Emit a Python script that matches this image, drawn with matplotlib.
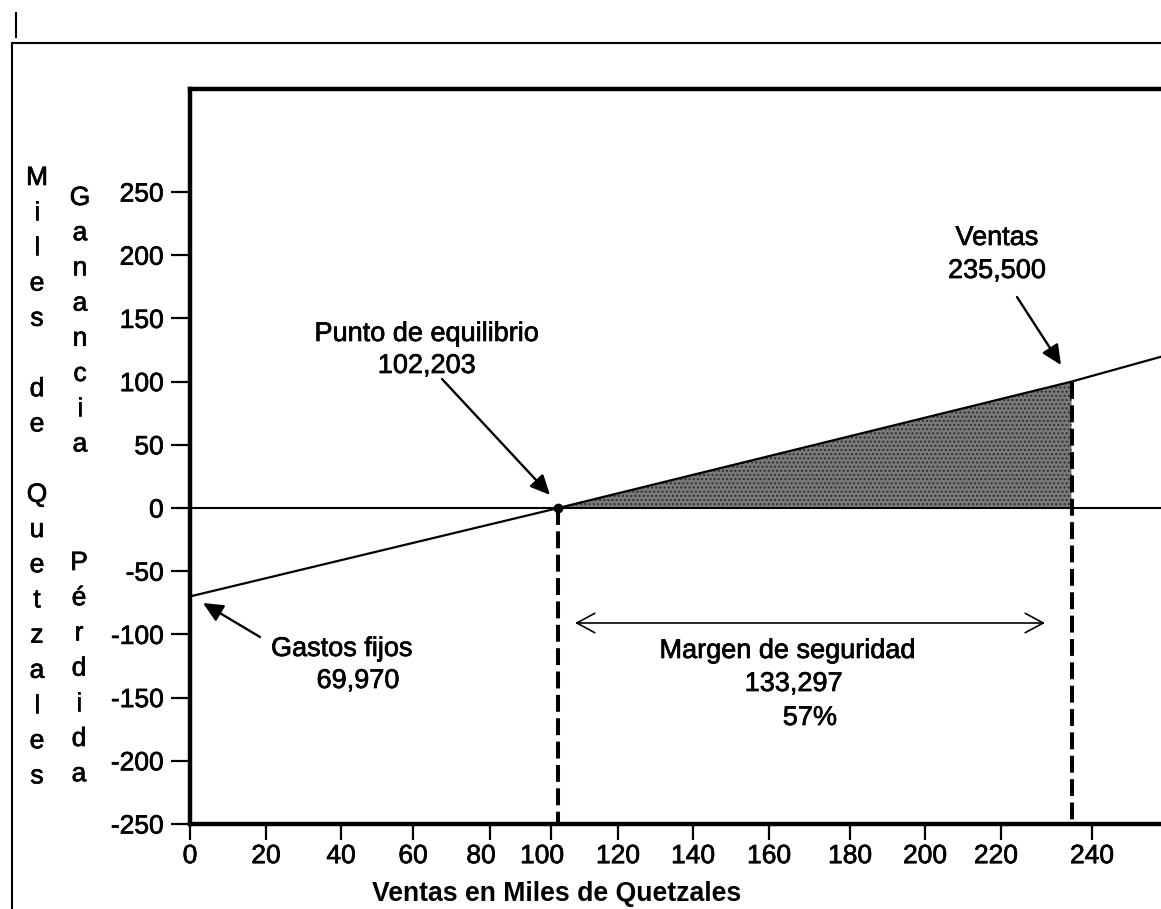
import numpy as np
import matplotlib
matplotlib.use("Agg")
import matplotlib.pyplot as plt
import matplotlib.patheffects as pe
import matplotlib.transforms as mtransforms
from matplotlib.lines import Line2D

plt.rcParams['font.family'] = ['Liberation Sans', 'DejaVu Sans']

# ---------------- data ----------------
x_tick_values = [0, 20, 40, 60, 80, 100, 120, 140, 160, 180, 200, 220, 240]
y_tick_values = [250, 200, 150, 100, 50, 0, -50, -100, -150, -200, -250]
profit_x = [0, 102.203, 235.5, 255]          # ventas (miles de Q)
profit_y = [-69.97, 0, 100, 119.5]           # ganancia / pérdida
breakeven_sales = 102.203
current_sales = 235.5
profit_at_sales = 100
floor_value = -250

label_breakeven = ["Punto de equilibrio", "102,203"]
label_sales = ["Ventas", "235,500"]
label_fixed = ["Gastos fijos", "69,970"]
label_margin = ["Margen de seguridad", "133,297", "57%"]
ylabel_outer = "Miles de Quetzales"
ylabel_gain = "Ganancia"
ylabel_loss = "Pérdida"
xlabel = "Ventas en Miles de Quetzales"

# ---------------- layout ----------------
W, H = 1161, 909
fig = plt.figure(figsize=(W / 100, H / 100), dpi=100)
INK = [pe.withStroke(linewidth=0.5, foreground='black')]


def F(x, y):
    return (x / W, 1 - y / H)


# irregular hand-drawn x axis: tick positions (pixels) of the reference
TICK_PX = [190, 266, 341, 413, 490, 551, 618, 693, 769, 850, 925, 1001, 1092]
LABEL_SHIFT_PX = {80: -9, 100: -9, 220: -5}
_lo = (TICK_PX[1] - TICK_PX[0]) / 20.0
_hi = (TICK_PX[-1] - TICK_PX[-2]) / 20.0


def fwd(v):
    v = np.asarray(v, dtype=float)
    out = np.interp(v, x_tick_values, TICK_PX)
    out = np.where(v < x_tick_values[0], TICK_PX[0] + (v - x_tick_values[0]) * _lo, out)
    out = np.where(v > x_tick_values[-1], TICK_PX[-1] + (v - x_tick_values[-1]) * _hi, out)
    return out


def inv(p):
    p = np.asarray(p, dtype=float)
    out = np.interp(p, TICK_PX, x_tick_values)
    out = np.where(p < TICK_PX[0], x_tick_values[0] + (p - TICK_PX[0]) / _lo, out)
    out = np.where(p > TICK_PX[-1], x_tick_values[-1] + (p - TICK_PX[-1]) / _hi, out)
    return out


ax = fig.add_axes([190 / W, 1 - 824 / H, (W - 190) / W, (824 - 89) / H])
ax.set_xscale('function', functions=(fwd, inv))
ax.set_xlim(0, float(inv(W)))
ax.set_ylim(-250, 331.5)

for s in ['left', 'top', 'bottom']:
    ax.spines[s].set_linewidth(3.2)
    ax.spines[s].set_color('black')
ax.spines['right'].set_visible(False)

ax.set_xticks(x_tick_values)
ax.set_xticklabels([str(v) for v in x_tick_values])
ax.set_yticks(y_tick_values)
ax.set_yticklabels([str(v) for v in y_tick_values])
ax.xaxis.set_minor_locator(matplotlib.ticker.NullLocator())
ax.tick_params(axis='x', direction='out', length=11.5, width=1.6, labelsize=19, pad=3)
ax.tick_params(axis='y', direction='out', length=14, width=1.6, labelsize=19, pad=5)
for lab in ax.get_xticklabels() + ax.get_yticklabels():
    lab.set_path_effects(INK)
for v, lab in zip(x_tick_values, ax.get_xticklabels()):
    if v in LABEL_SHIFT_PX:
        off = mtransforms.ScaledTranslation(LABEL_SHIFT_PX[v] / 100, 0, fig.dpi_scale_trans)
        lab.set_transform(lab.get_transform() + off)

# zero line
ax.axhline(0, color='black', lw=1.5, zorder=3)
# shaded margin-of-safety profit area
ax.fill([breakeven_sales, current_sales, current_sales],
        [0, profit_at_sales, 0],
        facecolor='#7a7a7a', edgecolor='none', zorder=2)
ax.fill([breakeven_sales, current_sales, current_sales],
        [0, profit_at_sales, 0],
        facecolor='none', edgecolor='#2e2e2e', lw=0, hatch='....', zorder=2)
# profit line
ax.plot(profit_x, profit_y, color='black', lw=1.6, zorder=4)
# dashed verticals
dash = (0, (4.2, 1.6))
ax.plot([breakeven_sales, breakeven_sales], [0, floor_value], color='black',
        lw=2.9, linestyle=dash, zorder=4, clip_on=False)
ax.plot([current_sales, current_sales], [profit_at_sales, floor_value], color='black',
        lw=2.9, linestyle=dash, zorder=4, clip_on=False)
# break-even point
ax.plot([breakeven_sales], [0], 'o', color='black', ms=6, zorder=5)

# ---------------- annotations ----------------
TS = 19.5


def txt(x, y, s, **kw):
    fig.text(*F(x, y), s, ha='center', va='center', fontsize=TS, path_effects=INK, **kw)


txt(427, 334, label_breakeven[0])
txt(427, 366, label_breakeven[1])
txt(997, 238, label_sales[0])
txt(997, 271, label_sales[1])
txt(342, 649, label_fixed[0])
txt(358, 681, label_fixed[1])
txt(788, 651, label_margin[0])
txt(794, 684, label_margin[1])
txt(810, 718, label_margin[2])

head = dict(arrowstyle='-|>,head_length=0.6,head_width=0.28', color='black', lw=1.7,
            mutation_scale=20, shrinkA=0, shrinkB=0)
ax.annotate('', xy=F(550, 495), xycoords='figure fraction',
            xytext=F(442, 379), textcoords='figure fraction', arrowprops=head)
ax.annotate('', xy=F(1061, 365), xycoords='figure fraction',
            xytext=F(1017, 297), textcoords='figure fraction', arrowprops=head)
ax.annotate('', xy=F(203, 603), xycoords='figure fraction',
            xytext=F(260, 637), textcoords='figure fraction', arrowprops=head)
ax.annotate('', xy=F(1045, 623), xycoords='figure fraction',
            xytext=F(575, 623), textcoords='figure fraction',
            arrowprops=dict(arrowstyle='<->,head_length=0.65,head_width=0.35', color='black',
                            lw=1.2, mutation_scale=20, shrinkA=0, shrinkB=0))

# ---------------- axis titles ----------------
fig.text(*F(557, 894), xlabel, ha='center', va='center', fontsize=19.2, fontweight='bold')

STEP = 35.2
LS = 19
for i, ch in enumerate(ylabel_outer):
    if ch != ' ':
        fig.text(*F(37, 185 + i * STEP), ch, ha='center', va='baseline', fontsize=LS,
                 path_effects=INK)
for i, ch in enumerate(ylabel_gain):
    fig.text(*F(80, 205 + i * STEP), ch, ha='center', va='baseline', fontsize=LS,
             path_effects=INK)
for i, ch in enumerate(ylabel_loss):
    fig.text(*F(79, 570 + i * STEP), ch, ha='center', va='baseline', fontsize=LS,
             path_effects=INK)

# ---------------- outer frame ----------------
fig.add_artist(Line2D([12 / W, 1], [1 - 43 / H, 1 - 43 / H], transform=fig.transFigure,
                      color='black', lw=1.5))
fig.add_artist(Line2D([12 / W, 12 / W], [1 - 43 / H, 0], transform=fig.transFigure,
                      color='black', lw=1.5))
fig.add_artist(Line2D([16 / W, 16 / W], [1 - 13 / H, 1 - 37 / H], transform=fig.transFigure,
                      color='black', lw=1.5))

fig.savefig('out.png', dpi=100, facecolor='white')
